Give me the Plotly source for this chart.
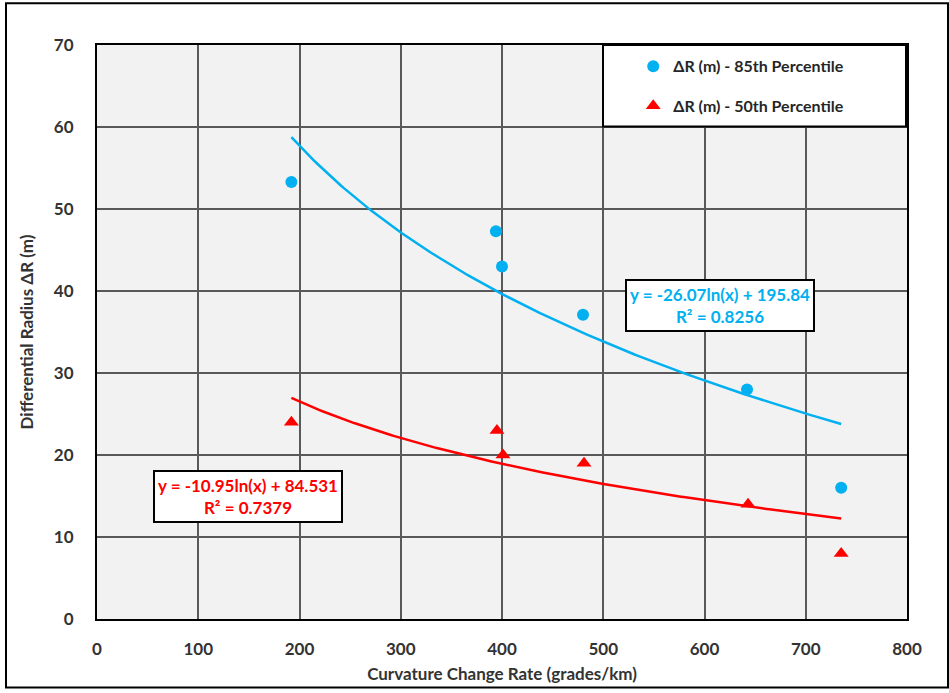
import numpy as np
import plotly.graph_objects as go

# Data
x_85 = [192, 394, 400, 480, 642, 735]
y_85 = [53.3, 47.3, 43.0, 37.1, 28.0, 16.0]
x_50 = [192, 395, 401, 481, 643, 735]
y_50 = [24.0, 23.0, 20.0, 19.0, 14.0, 8.0]

# Logarithmic trendline coefficients (as printed on the chart)
coef_85 = (-26.07, 195.84)
coef_50 = (-10.95, 84.531)
r2_85 = 0.8256
r2_50 = 0.7379

x_ticks = [0, 100, 200, 300, 400, 500, 600, 700, 800]
y_ticks = [0, 10, 20, 30, 40, 50, 60, 70]

BLUE = "#00B0F0"
RED = "#FF0000"
FONT = "Lato"

xs_85 = np.linspace(min(x_85), max(x_85), 200)
xs_50 = np.linspace(min(x_50), max(x_50), 200)

fig = go.Figure()
fig.add_trace(go.Scatter(x=xs_85, y=coef_85[0] * np.log(xs_85) + coef_85[1],
                         mode="lines", line=dict(color=BLUE, width=2.5),
                         showlegend=False, hoverinfo="skip"))
fig.add_trace(go.Scatter(x=xs_50, y=coef_50[0] * np.log(xs_50) + coef_50[1],
                         mode="lines", line=dict(color=RED, width=2.5),
                         showlegend=False, hoverinfo="skip"))
fig.add_trace(go.Scatter(x=x_85, y=y_85, mode="markers", name="ΔR (m) - 85th Percentile",
                         marker=dict(color=BLUE, size=12, symbol="circle"), legend="legend"))
fig.add_trace(go.Scatter(x=x_50, y=y_50, mode="markers", name="ΔR (m) - 50th Percentile",
                         marker=dict(color=RED, size=13, symbol="triangle-up"), legend="legend2"))

axis_font = dict(family=FONT, size=17, color="#333333", weight="bold")
box_font = dict(family=FONT, size=17, weight="bold")

fig.update_layout(
    width=949, height=693,
    margin=dict(l=97, r=42, t=45, b=70),
    paper_bgcolor="white",
    plot_bgcolor="#F2F2F2",
    font=dict(family=FONT, size=16, color="#262626"),
    xaxis=dict(range=[0, 800], tickvals=x_ticks, showgrid=True, gridcolor="#595959", gridwidth=2,
               showline=True, linecolor="black", linewidth=2, mirror=True, zeroline=False,
               tickfont=axis_font, ticks="outside", ticklen=14, tickcolor="rgba(0,0,0,0)",
               title=dict(text="Curvature Change Rate (grades/km)", font=axis_font, standoff=10)),
    yaxis=dict(range=[0, 70], tickvals=y_ticks, showgrid=True, gridcolor="#595959", gridwidth=2,
               showline=True, linecolor="black", linewidth=2, mirror=True, zeroline=False,
               tickfont=axis_font, ticks="outside", ticklen=18, tickcolor="rgba(0,0,0,0)",
               title=dict(text="Differential Radius ΔR (m)", font=axis_font, standoff=16)),
    legend=dict(x=0.662, y=0.963, xanchor="left", yanchor="middle", bgcolor="rgba(0,0,0,0)",
                font=dict(family=FONT, size=16, color="#262626", weight="bold"), itemwidth=30),
    legend2=dict(x=0.662, y=0.894, xanchor="left", yanchor="middle", bgcolor="rgba(0,0,0,0)",
                 font=dict(family=FONT, size=16, color="#262626", weight="bold"), itemwidth=30),
    shapes=[
        dict(type="rect", xref="paper", yref="paper", x0=(603 - 97) / 810, x1=(906 - 97) / 810,
             y0=(622 - 127) / 577, y1=1, fillcolor="white", line=dict(color="black", width=2),
             layer="above"),
        dict(type="rect", xref="paper", yref="paper", x0=-91 / 810, x1=851 / 810,
             y0=-69 / 578, y1=42 / 578 + 1, line=dict(color="black", width=2)),
    ],
    annotations=[
        dict(x=615, y=38.2, xref="x", yref="y",
             text=f"y = {coef_85[0]}ln(x) + {coef_85[1]}<br>R² = {r2_85}",
             showarrow=False, font=dict(box_font, color=BLUE),
             bgcolor="white", bordercolor="black", borderwidth=2, borderpad=3, align="center"),
        dict(x=149, y=15.0, xref="x", yref="y",
             text=f"y = {coef_50[0]}ln(x) + {coef_50[1]}<br>R² = {r2_50}",
             showarrow=False, font=dict(box_font, color=RED),
             bgcolor="white", bordercolor="black", borderwidth=2, borderpad=3, align="center"),
    ],
)

fig.write_html("out.html", config={"displayModeBar": False},
               post_script="document.body.style.margin='0';document.body.style.padding='0';")
